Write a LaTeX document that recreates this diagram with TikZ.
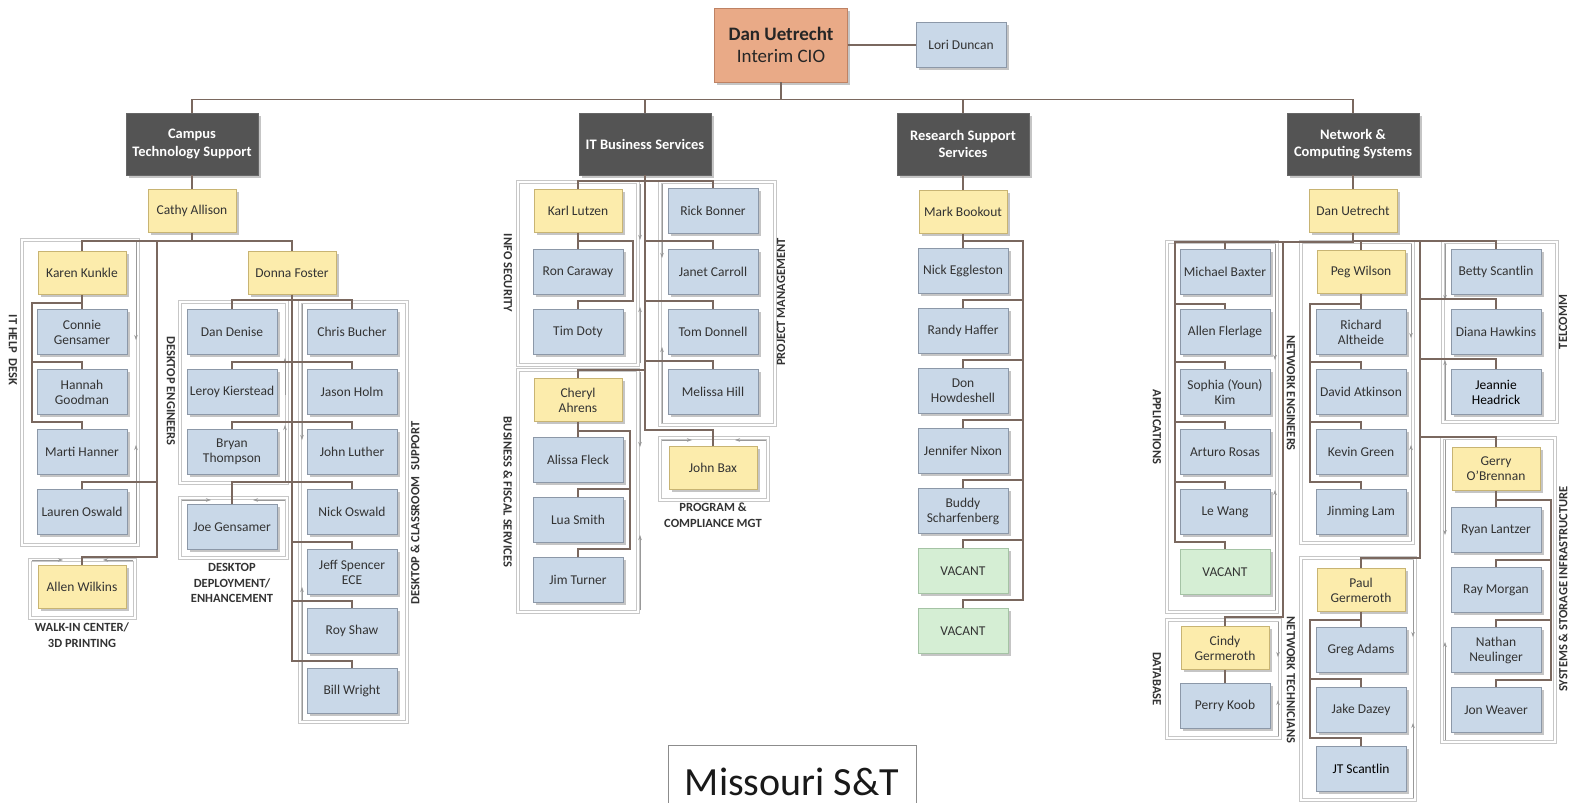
\documentclass[tikz,border=0pt]{standalone}
\usepackage{fontspec}
\setmainfont{Carlito}
\usetikzlibrary{arrows.meta,shadows}

\definecolor{bluebox}{RGB}{201,216,232}
\definecolor{blueedge}{RGB}{140,152,168}
\definecolor{yellowbox}{RGB}{252,236,172}
\definecolor{yellowedge}{RGB}{200,180,115}
\definecolor{greenbox}{RGB}{213,238,212}
\definecolor{greenedge}{RGB}{165,195,165}
\definecolor{deptbox}{RGB}{84,84,84}
\definecolor{ciobox}{RGB}{233,170,135}
\definecolor{cioedge}{RGB}{190,130,100}
\definecolor{wire}{RGB}{122,104,95}

\tikzset{
  person/.style={draw=blueedge, fill=bluebox, line width=0.8pt, minimum width=90pt, minimum height=45pt, inner sep=1pt, align=center, text=black!80, font=\fontsize{13.5}{15}\selectfont, drop shadow={shadow xshift=2.5pt, shadow yshift=-2.5pt, fill=black!45}},
  lead/.style={person, draw=yellowedge, fill=yellowbox, minimum width=88pt, minimum height=43pt},
  vacant/.style={person, draw=greenedge, fill=greenbox},
  dept/.style={person, draw=black!60, fill=deptbox, text=white, minimum width=132pt, minimum height=62pt, font=\bfseries\fontsize{14.5}{17.5}\selectfont},
  cio/.style={person, draw=cioedge, fill=ciobox, minimum width=133pt, minimum height=74pt, text=black!85, font=\fontsize{19}{22}\selectfont},
  conn/.style={draw=wire, line width=1.6pt},
  grp/.style={draw=black!22, double=white, double distance=1.8pt, line width=1pt},
  tag/.style={font=\bfseries\fontsize{12.5}{15.5}\selectfont, text=black!80, align=center},
  hint/.style={draw=black!40, line width=0.5pt, -{Stealth[length=5pt,width=3.5pt]}}
}

\begin{document}
\begin{tikzpicture}[x=1pt,y=-1pt]
	\useasboundingbox (0,0) rectangle (1575,803);
	\draw[grp] (22,240) rectangle (138,545);
	\draw[grp] (30,560) rectangle (135,618);
	\draw[grp] (180,302) rectangle (287,483);
	\draw[grp] (180,498) rectangle (287,558);
	\draw[grp] (300,302) rectangle (407,722);
	\draw[grp] (518,182) rectangle (638,365);
	\draw[grp] (660,182) rectangle (775,425);
	\draw[grp] (518,370) rectangle (638,612);
	\draw[grp] (660,438) rectangle (768,500);
	\draw[grp] (1167,242) rectangle (1277,612);
	\draw[grp] (1301,242) rectangle (1413,543);
	\draw[grp] (1443,242) rectangle (1557,422);
	\draw[grp] (1442,438) rectangle (1555,742);
	\draw[grp] (1301,558) rectangle (1415,800);
	\draw[grp] (1167,620) rectangle (1280,738);

	\draw[hint] (136,242) -- (136,340);
	\draw[hint] (136,543) -- (136,445);
	\draw[hint] (32,560) -- (63,560);
	\draw[hint] (133,560) -- (103,560);
	\draw[hint] (285,395) -- (285,358);
	\draw[hint] (285,481) -- (285,425);
	\draw[hint] (302,304) -- (302,440);
	\draw[hint] (302,720) -- (302,587);
	\draw[hint] (182,500) -- (211,500);
	\draw[hint] (285,500) -- (253,500);
	\draw[hint] (640,184) -- (640,240);
	\draw[hint] (662,184) -- (662,258);
	\draw[hint] (640,363) -- (640,307);
	\draw[hint] (662,423) -- (662,347);
	\draw[hint] (640,372) -- (640,447);
	\draw[hint] (640,610) -- (640,535);
	\draw[hint] (662,440) -- (692,440);
	\draw[hint] (766,440) -- (735,440);
	\draw[hint] (1275,244) -- (1275,360);
	\draw[hint] (1275,610) -- (1275,490);
	\draw[hint] (1411,244) -- (1411,338);
	\draw[hint] (1411,541) -- (1411,445);
	\draw[hint] (1445,244) -- (1445,300);
	\draw[hint] (1445,420) -- (1445,360);
	\draw[hint] (1445,440) -- (1445,535);
	\draw[hint] (1445,740) -- (1445,642);
	\draw[hint] (1413,560) -- (1413,637);
	\draw[hint] (1413,798) -- (1413,723);
	\draw[hint] (1278,622) -- (1278,657);
	\draw[hint] (1278,736) -- (1278,700);

	\node[cio] (cio) at (781,45) {\textbf{Dan Uetrecht}\\Interim CIO};
	\node[person] (lori) at (961,45) {Lori Duncan};
	\node[dept] (cts) at (192,144) {Campus\\Technology Support};
	\node[dept] (its) at (645,144) {IT Business Services};
	\node[dept] (rss) at (963,144) {Research Support\\Services};
	\node[dept] (ncs) at (1353,144) {Network \&\\Computing Systems};

	\node[lead] (cathy) at (192,211) {Cathy Allison};
	\node[lead] (karen) at (82,273) {Karen Kunkle};
	\node[person] (connie) at (82,332) {Connie\\Gensamer};
	\node[person] (hannah) at (82,392) {Hannah\\Goodman};
	\node[person] (marti) at (82,452) {Marti Hanner};
	\node[person] (lauren) at (82,512) {Lauren Oswald};
	\node[lead] (allen) at (82,587) {Allen Wilkins};
	\node[lead] (donna) at (292,273) {Donna Foster};
	\node[person] (dandenise) at (232,332) {Dan Denise};
	\node[person] (leroy) at (232,392) {Leroy Kierstead};
	\node[person] (bryan) at (232,452) {Bryan\\Thompson};
	\node[person] (joe) at (232,527) {Joe Gensamer};
	\node[person] (chris) at (352,332) {Chris Bucher};
	\node[person] (jason) at (352,392) {Jason Holm};
	\node[person] (luther) at (352,452) {John Luther};
	\node[person] (nicko) at (352,512) {Nick Oswald};
	\node[person] (jeff) at (352,572) {Jeff Spencer\\ECE};
	\node[person] (roy) at (352,631) {Roy Shaw};
	\node[person] (bill) at (352,691) {Bill Wright};

	\node[lead] (karl) at (578,211) {Karl Lutzen};
	\node[person] (ron) at (578,272) {Ron Caraway};
	\node[person] (tim) at (578,332) {Tim Doty};
	\node[lead] (cheryl) at (578,400) {Cheryl\\Ahrens};
	\node[person] (alissa) at (578,460) {Alissa Fleck};
	\node[person] (lua) at (578,520) {Lua Smith};
	\node[person] (jim) at (578,580) {Jim Turner};
	\node[person] (rick) at (713,211) {Rick Bonner};
	\node[person] (janet) at (713,272) {Janet Carroll};
	\node[person] (tom) at (713,332) {Tom Donnell};
	\node[person] (melissa) at (713,392) {Melissa Hill};
	\node[lead] (bax) at (713,468) {John Bax};

	\node[lead] (mark) at (963,212) {Mark Bookout};
	\node[person] (nick) at (963,271) {Nick Eggleston};
	\node[person] (randy) at (963,331) {Randy Haffer};
	\node[person] (don) at (963,391) {Don\\Howdeshell};
	\node[person] (jennifer) at (963,451) {Jennifer Nixon};
	\node[person] (buddy) at (963,511) {Buddy\\Scharfenberg};
	\node[vacant] (vacanta) at (963,571) {VACANT};
	\node[vacant] (vacantb) at (963,631) {VACANT};

	\node[lead] (danu) at (1353,211) {Dan Uetrecht};
	\node[person] (michael) at (1225,272) {Michael Baxter};
	\node[person] (allenf) at (1225,332) {Allen Flerlage};
	\node[person] (sophia) at (1225,392) {Sophia (Youn)\\Kim};
	\node[person] (arturo) at (1225,452) {Arturo Rosas};
	\node[person] (lewang) at (1225,512) {Le Wang};
	\node[vacant] (vacantc) at (1225,572) {VACANT};
	\node[lead] (cindy) at (1225,648) {Cindy\\Germeroth};
	\node[person] (perry) at (1225,706) {Perry Koob};
	\node[lead] (peg) at (1361,272) {Peg Wilson};
	\node[person] (richard) at (1361,332) {Richard\\Altheide};
	\node[person] (david) at (1361,392) {David Atkinson};
	\node[person] (kevin) at (1361,452) {Kevin Green};
	\node[person] (jinming) at (1361,512) {Jinming Lam};
	\node[lead] (paul) at (1361,590) {Paul\\Germeroth};
	\node[person] (greg) at (1361,650) {Greg Adams};
	\node[person] (jake) at (1361,710) {Jake Dazey};
	\node[person, text=black] (jt) at (1361,769) {JT Scantlin};
	\node[person] (betty) at (1496,272) {Betty Scantlin};
	\node[person] (diana) at (1496,332) {Diana Hawkins};
	\node[person, text=black] (jeannie) at (1496,392) {Jeannie\\Headrick};
	\node[lead] (gerry) at (1496,469) {Gerry\\O’Brennan};
	\node[person] (ryan) at (1496,530) {Ryan Lantzer};
	\node[person] (ray) at (1496,590) {Ray Morgan};
	\node[person] (nathan) at (1496,650) {Nathan\\Neulinger};
	\node[person] (jon) at (1496,710) {Jon Weaver};

	\draw[conn] (cio.east) -- (lori.west);
	\draw[conn] (cio.south) -- ++(0,17) -| (cts.north);
	\draw[conn] (cio.south) ++(0,17) -| (its.north);
	\draw[conn] (cio.south) ++(0,17) -| (rss.north);
	\draw[conn] (cio.south) ++(0,17) -| (ncs.north);

	\draw[conn] (cts.south) -- (cathy.north);
	\draw[conn] (cathy.south) -- ++(0,8) -| (karen.north);
	\draw[conn] (cathy.south) ++(0,8) -| (donna.north);
	\coordinate (cathyrail) at (157,240);
	\draw[conn] (cathyrail) |- ([yshift=7pt]lauren.north) -- (lauren.north);
	\draw[conn] (cathyrail) |- ([yshift=8pt]allen.north) -- (allen.north);
	\draw[conn] (karen.south) -- (connie.north);
	\coordinate (karenrail) at (32,303);
	\draw[conn] (karen.south) |- (karenrail) |- ([yshift=7pt]hannah.north) -- (hannah.north);
	\draw[conn] (karenrail) |- ([yshift=7pt]marti.north) -- (marti.north);
	\draw[conn] (donna.south) |- ([yshift=9pt]dandenise.north) -- (dandenise.north);
	\draw[conn] (donna.south) |- ([yshift=9pt]chris.north) -- (chris.north);
	\draw[conn] (leroy.north) -- ++(0,-7) -| (jason.north);
	\draw[conn] (bryan.north) -- ++(0,-7) -| (luther.north);
	\draw[conn] (joe.north) -- ++(0,-22) -| (nicko.north);
	\draw[conn] (donna.south) |- ([yshift=7pt]jeff.north) -- (jeff.north);
	\draw[conn] (donna.south) |- ([yshift=7pt]roy.north) -- (roy.north);
	\draw[conn] (donna.south) |- ([yshift=7pt]bill.north) -- (bill.north);

	\draw[conn] (its.south) |- ([yshift=8pt]karl.north) -- (karl.north);
	\draw[conn] (its.south) |- ([yshift=7pt]rick.north) -- (rick.north);
	\draw[conn] (its.south) |- ([yshift=8pt]janet.north) -- (janet.north);
	\draw[conn] (its.south) |- ([yshift=8pt]tom.north) -- (tom.north);
	\draw[conn] (its.south) |- ([yshift=8pt]melissa.north) -- (melissa.north);
	\draw[conn] (its.south) |- ([yshift=8pt]cheryl.north) -- (cheryl.north);
	\draw[conn] (its.south) |- ([yshift=16pt]bax.north) -- (bax.north);
	\draw[conn] (karl.south) -- (ron.north);
	\coordinate (karlrail) at (633,241);
	\draw[conn] (karl.south) |- (karlrail) |- ([yshift=8pt]tim.north) -- (tim.north);
	\draw[conn] (cheryl.south) -- (alissa.north);
	\coordinate (cherylrail) at (630,431);
	\draw[conn] (cheryl.south) |- (cherylrail) |- ([yshift=8pt]lua.north) -- (lua.north);
	\draw[conn] (cherylrail) |- ([yshift=8pt]jim.north) -- (jim.north);

	\draw[conn] (rss.south) -- (mark.north);
	\draw[conn] (mark.south) -- (nick.north);
	\coordinate (markrail) at (1023,241);
	\draw[conn] (mark.south) |- (markrail) |- ([yshift=8pt]vacantb.north) -- (vacantb.north);
	\draw[conn] (markrail) |- ([yshift=8pt]randy.north) -- (randy.north);
	\draw[conn] (markrail) |- ([yshift=8pt]don.north) -- (don.north);
	\draw[conn] (markrail) |- ([yshift=8pt]jennifer.north) -- (jennifer.north);
	\draw[conn] (markrail) |- ([yshift=8pt]buddy.north) -- (buddy.north);
	\draw[conn] (markrail) |- ([yshift=8pt]vacanta.north) -- (vacanta.north);

	\draw[conn] (ncs.south) -- (danu.north);
	\coordinate (apprail) at (1175,242);
	\draw[conn] (danu.south) |- (apprail) |- ([yshift=5pt]allenf.north) -- (allenf.north);
	\draw[conn] (michael.north) |- (apprail);
	\draw[conn] (apprail) |- ([yshift=7pt]sophia.north) -- (sophia.north);
	\draw[conn] (apprail) |- ([yshift=7pt]arturo.north) -- (arturo.north);
	\draw[conn] (apprail) |- ([yshift=7pt]lewang.north) -- (lewang.north);
	\draw[conn] (apprail) |- ([yshift=7pt]vacantc.north) -- (vacantc.north);
	\coordinate (dbrail) at (1283,242);
	\draw[conn] (dbrail) |- ([yshift=9pt]cindy.north) -- (cindy.north);
	\draw[conn] (cindy.south) -- (perry.north);
	\draw[conn] (danu.south) |- ([yshift=8.5pt]peg.north) -- (peg.north);
	\draw[conn] (peg.south) -- (richard.north);
	\coordinate (pegrail) at (1310,304);
	\draw[conn] (peg.south) |- (pegrail) |- ([yshift=7pt]jinming.north) -- (jinming.north);
	\draw[conn] (pegrail) |- ([yshift=7pt]david.north) -- (david.north);
	\draw[conn] (pegrail) |- ([yshift=7pt]kevin.north) -- (kevin.north);
	\draw[conn] (danu.south) |- ([yshift=8pt]betty.north) -- (betty.north);
	\coordinate (ncsrail) at (1420,242);
	\draw[conn] (ncsrail) |- ([yshift=10pt]paul.north) -- (paul.north);
	\draw[conn] (ncsrail) |- ([yshift=10pt]diana.north) -- (diana.north);
	\draw[conn] (ncsrail) |- ([yshift=10pt]jeannie.north) -- (jeannie.north);
	\draw[conn] (ncsrail) |- ([yshift=10pt]gerry.north) -- (gerry.north);
	\draw[conn] (paul.south) -- (greg.north);
	\coordinate (paulrail) at (1310,620);
	\draw[conn] (paul.south) |- (paulrail) |- ([yshift=8pt]jt.north) -- (jt.north);
	\draw[conn] (paulrail) |- ([yshift=8pt]jake.north) -- (jake.north);
	\draw[conn] (gerry.south) -- (ryan.north);
	\coordinate (gerryrail) at (1551,500);
	\draw[conn] (gerry.south) |- (gerryrail) |- ([yshift=7pt]jon.north) -- (jon.north);
	\draw[conn] (gerryrail) |- ([yshift=7pt]ray.north) -- (ray.north);
	\draw[conn] (gerryrail) |- ([yshift=7pt]nathan.north) -- (nathan.north);

	\node[tag, rotate=-90] (helptag) at (13,350) {IT HELP~~DESK};
	\node[tag] (walkintag) at (82,635) {WALK-IN CENTER/\\3D PRINTING};
	\node[tag, rotate=-90] (engtag) at (171,391) {DESKTOP ENGINEERS};
	\node[tag] (deploytag) at (232,583) {DESKTOP\\DEPLOYMENT/\\ENHANCEMENT};
	\node[tag, rotate=90] (classtag) at (415,513) {DESKTOP \& CLASSROOM~~SUPPORT};
	\node[tag, rotate=-90] (sectag) at (508,273) {INFO SECURITY};
	\node[tag, rotate=-90] (fisctag) at (508,492) {BUSINESS \& FISCAL SERVICES};
	\node[tag, rotate=90] (pmtag) at (781,302) {PROJECT MANAGEMENT};
	\node[tag] (progtag) at (713,515) {PROGRAM \&\\COMPLIANCE MGT};
	\node[tag, rotate=-90] (apptag) at (1157,427) {APPLICATIONS};
	\node[tag, rotate=-90] (dbtag) at (1157,679) {DATABASE};
	\node[tag, rotate=-90] (engnettag) at (1291,393) {NETWORK ENGINEERS};
	\node[tag, rotate=-90] (techtag) at (1291,680) {NETWORK TECHNICIANS};
	\node[tag, rotate=90] (teltag) at (1563,322) {TELCOMM};
	\node[tag, rotate=90] (systag) at (1563,589) {SYSTEMS \& STORAGE INFRASTRUCTURE};

	\draw[draw=black!45, line width=0.8pt] (668,803) |- (916,745) -- (916,803);
	\node[font=\fontsize{40}{44}\selectfont, text=black!90] (campus) at (792,782) {Missouri S\&T};
\end{tikzpicture}
\end{document}
